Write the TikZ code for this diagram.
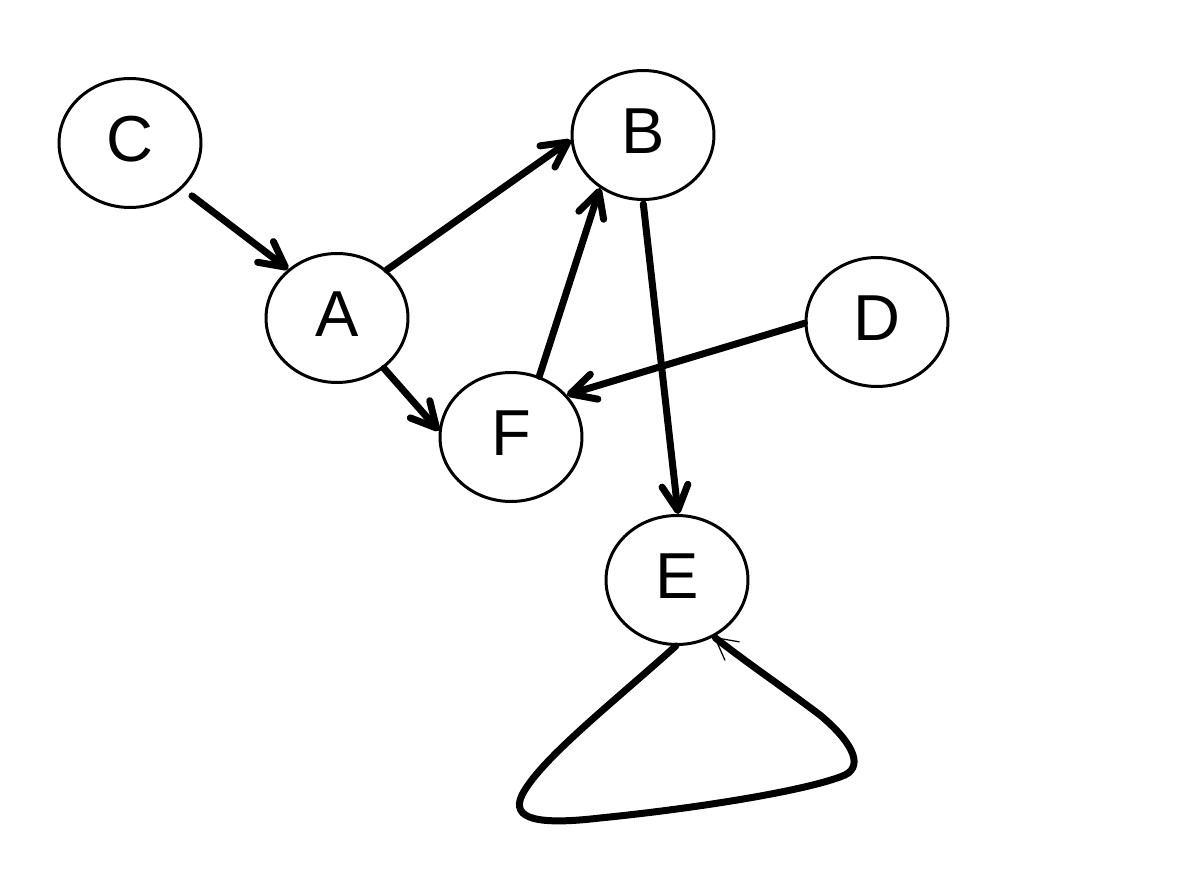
\documentclass[tikz,border=0pt]{standalone}
\usepackage{fontspec}
\setmainfont{Liberation Sans}
\usetikzlibrary{arrows.meta,shapes.geometric}
\begin{document}
\begin{tikzpicture}[x=0.02cm,y=-0.02cm,
  vertex/.style={ellipse,draw,line width=0.06cm,minimum width=2.84cm,minimum height=2.58cm,inner sep=0pt,
    text height=0.92cm,text depth=0.16cm,font=\fontsize{37}{40}\selectfont},
  edge/.style={line width=0.14cm,line cap=round,line join=round,
    -{Straight Barb[length=0.5cm,width=0.52cm,line cap=round,line join=round]}},
  loopedge/.style={line width=0.14cm,line cap=round,line join=round,
    -{Straight Barb[length=0.44cm,width=0.47cm,line width=0.025cm]}}]
\useasboundingbox (0,0) rectangle (1178,882);
\node[vertex] (C) at (130,143) {C};
\node[vertex] (B) at (643,135) {B};
\node[vertex] (A) at (337,318) {A};
\node[vertex] (D) at (877,322) {D};
\node[vertex] (F) at (511,437) {F};
\node[vertex] (E) at (677,580) {E};
\draw[edge,shorten <=0.24cm] (C.-41) -- (A.135.6);
\draw[edge] (A.44.4) -- (B.184);
\draw[edge] (A.-47) -- (F.175);
\draw[edge] (F.65.8) -- (B.231.6);
\draw[edge] (D.181) -- (F.37.7);
\draw[edge,shorten <=0.06cm] (B.270) -- (E.89);
\draw[loopedge] (E.269) .. controls (610,705) and (540,760) .. (522,795)
  .. controls (510,820) and (540,825) .. (600,818)
  .. controls (700,808) and (810,790) .. (845,775)
  .. controls (865,765) and (850,740) .. (820,715)
  .. controls (780,685) and (750,665) .. (E.303);
\end{tikzpicture}
\end{document}
